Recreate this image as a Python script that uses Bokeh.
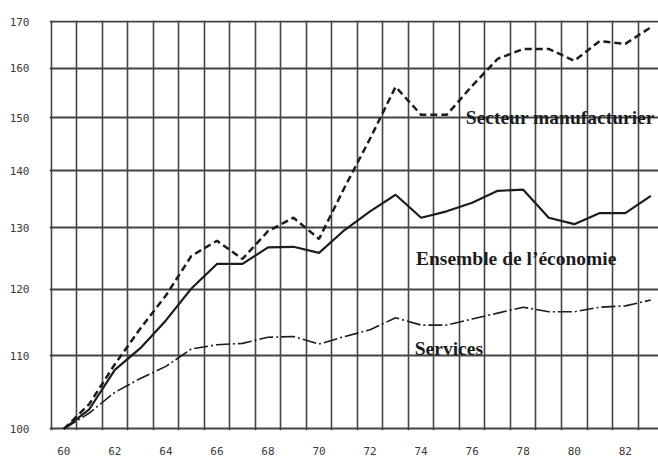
from bokeh.plotting import figure
from bokeh.models import Range1d, FixedTicker, PrintfTickFormatter, ColumnDataSource
from bokeh.core.properties import value
from bokeh.embed import file_html
from bokeh.resources import INLINE

years = list(range(60, 84))
manufacturier = [100, 103.3, 108.8, 114.0, 119.0, 125.3, 127.8, 124.8, 129.4, 131.7,
                 128.1, 137.0, 146.0, 156.2, 150.6, 150.6, 156.4, 162.0, 164.1, 164.1,
                 161.6, 165.8, 165.2, 168.8]
economie = [100, 102.6, 108.0, 111.1, 115.2, 120.1, 124.0, 124.0, 126.7, 126.8,
            125.8, 129.6, 132.8, 135.7, 131.7, 132.8, 134.3, 136.4, 136.6, 131.7,
            130.6, 132.5, 132.5, 135.5]
services = [100, 102.1, 104.9, 106.8, 108.5, 111.0, 111.6, 111.8, 112.7, 112.8,
            111.7, 112.8, 113.8, 115.6, 114.5, 114.5, 115.4, 116.3, 117.2, 116.5,
            116.5, 117.2, 117.4, 118.3]

x_tick_labels = [60, 62, 64, 66, 68, 70, 72, 74, 76, 78, 80, 82]
y_tick_labels = [100, 110, 120, 130, 140, 150, 160, 170]

series_labels = ["Secteur manufacturier", "Ensemble de l\u2019\u00e9conomie", "Services"]
label_x = [75.75, 73.8, 73.75]
label_y = [150.0, 124.8, 111.0]

ink = "#1c1c1c"
gridc = "#444444"

p = figure(width=658, height=457, output_backend="svg", toolbar_location=None,
           y_axis_type="log",
           x_range=Range1d(59.44, 83.3), y_range=Range1d(99.8, 170.3),
           min_border_left=49, min_border_right=0, min_border_top=20, min_border_bottom=27)
p.outline_line_color = None
p.background_fill_color = "white"

p.xgrid.ticker = FixedTicker(ticks=[59.5 + i for i in range(25)])
p.ygrid.ticker = FixedTicker(ticks=y_tick_labels)
p.xgrid.grid_line_color = gridc
p.ygrid.grid_line_color = gridc
p.xgrid.grid_line_width = 1.6
p.ygrid.grid_line_width = 1.8

p.xaxis.ticker = FixedTicker(ticks=x_tick_labels)
p.yaxis.ticker = FixedTicker(ticks=y_tick_labels)
p.xaxis.formatter = PrintfTickFormatter(format="%d")
p.yaxis.formatter = PrintfTickFormatter(format="%d")
for ax in (p.xaxis, p.yaxis):
    ax.axis_line_color = None
    ax.major_tick_line_color = None
    ax.minor_tick_line_color = None
    ax.major_label_text_font = "DejaVu Sans Mono"
    ax.major_label_text_font_size = "11px"
    ax.major_label_text_color = "#3a3a3a"
p.xaxis.major_label_standoff = 10
p.yaxis.major_label_standoff = 14

p.line(years, manufacturier, line_color=ink, line_width=2.5, line_dash="7 4")
p.line(years, economie, line_color=ink, line_width=2.2)
p.line(years, services, line_color=ink, line_width=1.6, line_dash="14 3 2 3")

src = ColumnDataSource(dict(x=label_x, y=label_y, t=series_labels))
p.text(x="x", y="y", text="t", source=src, text_font=value("Liberation Serif"),
       text_font_style="bold", text_font_size="19.5px", text_color=ink,
       text_align="left", text_baseline="alphabetic")

open("out.html", "w").write(file_html(p, INLINE))
